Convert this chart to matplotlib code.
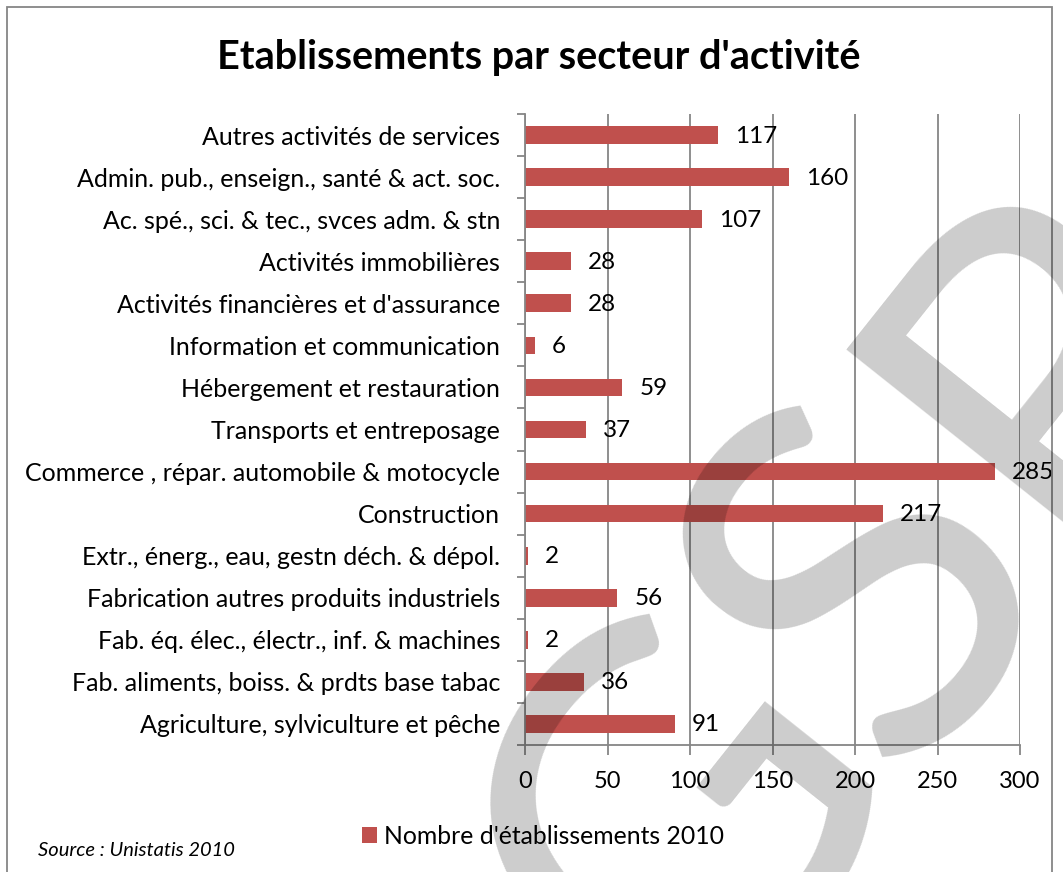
import matplotlib
matplotlib.use("Agg")
import matplotlib.pyplot as plt
from matplotlib.patches import Rectangle
import numpy as np

# ---- data (top to bottom as shown) ----
categories = [
    "Autres activités de services",
    "Admin. pub., enseign., santé & act. soc.",
    "Ac. spé., sci. & tec., svces adm. & stn",
    "Activités immobilières",
    "Activités financières et d'assurance",
    "Information et communication",
    "Hébergement et restauration",
    "Transports et entreposage",
    "Commerce , répar. automobile & motocycle",
    "Construction",
    "Extr., énerg., eau, gestn déch. & dépol.",
    "Fabrication autres produits industriels",
    "Fab. éq. élec., électr., inf. & machines",
    "Fab. aliments, boiss. & prdts base tabac",
    "Agriculture, sylviculture et pêche",
]
values = [117, 160, 107, 28, 28, 6, 59, 37, 285, 217, 2, 56, 2, 36, 91]
x_ticks = [0, 50, 100, 150, 200, 250, 300]
title = "Etablissements par secteur d'activité"
series_name = "Nombre d'établissements 2010"
source = "Source : Unistatis 2010"
watermark_letters = ["G", "S", "R"]

FONT = ["Lato", "DejaVu Sans"]
plt.rcParams["font.family"] = FONT

W, H = 1063, 872
fig = plt.figure(figsize=(W / 100, H / 100), dpi=100)
fig.patch.set_facecolor("white")

# chart border
fig.add_artist(Rectangle((7 / W, -0.01), (1052 - 7) / W, (H - 7) / H + 0.01,
                         transform=fig.transFigure, fill=False,
                         edgecolor="#868686", linewidth=1.3))

left, right, top, bottom = 525, 1020, 114, 745
ax = fig.add_axes([left / W, 1 - bottom / H, (right - left) / W, (bottom - top) / H])

cats = categories[::-1]
vals = values[::-1]
y = np.arange(len(cats))
bar_color = "#C0504D"
bars = ax.barh(y, vals, height=0.42, color=bar_color, zorder=2, label=series_name)

ax.set_xlim(0, 300)
ax.set_ylim(-0.5, len(cats) - 0.5)
ax.set_xticks(x_ticks)
ax.set_xticklabels([str(t) for t in x_ticks], fontsize=17)
ax.set_yticks(y)
ax.set_yticklabels(cats, fontsize=18)
ax.set_yticks(np.arange(-0.5, len(cats)), minor=True)

grid_c = "#868686"
ax.xaxis.grid(True, color=grid_c, linewidth=1.3, zorder=0)
ax.set_axisbelow(True)
for s in ("top", "right"):
    ax.spines[s].set_visible(False)
for s in ("left", "bottom"):
    ax.spines[s].set_color(grid_c)
    ax.spines[s].set_linewidth(1.3)

ax.tick_params(axis="y", which="major", length=0, pad=18)
ax.tick_params(axis="y", which="minor", length=6, width=1.3, color=grid_c, direction="out")
ax.tick_params(axis="x", which="major", length=7, width=1.3, color=grid_c, direction="out", pad=12)

for yi, v in zip(y, vals):
    ax.annotate(str(v), xy=(v, yi), xytext=(17, -1), textcoords="offset pixels",
                ha="left", va="center", fontsize=17.5, color="black")

fig.text(539 / W, 1 - 57 / H, title, ha="center", va="center",
         fontsize=28.5, fontweight="bold")

fig.legend(handles=[bars], labels=[series_name], loc="center",
           bbox_to_anchor=(543 / W, 1 - 836 / H), frameon=False,
           fontsize=17.8, handlelength=0.6, handleheight=0.6,
           handletextpad=0.3, borderpad=0)

fig.text(38 / W, 1 - 850 / H, source, ha="left", va="center",
         fontsize=14.5, style="italic")

# watermark (rotated letters, grey overlay)
theta = np.deg2rad(51.5)
dvec = np.array([np.sin(theta), np.cos(theta)])  # letter "down" in screen px
cap = 360.0
centers = [(654, 799), (843, 565), (1036, 337)]
for ch, (cx, cy) in zip(watermark_letters, centers):
    bx, by = np.array([cx, cy]) + dvec * cap / 2
    fig.text(bx / W, 1 - by / H, ch, ha="center", va="baseline",
             rotation=51.5, rotation_mode="anchor", fontsize=360,
             color="black", alpha=0.2, zorder=10)

fig.savefig("out.png", dpi=100, facecolor="white")
